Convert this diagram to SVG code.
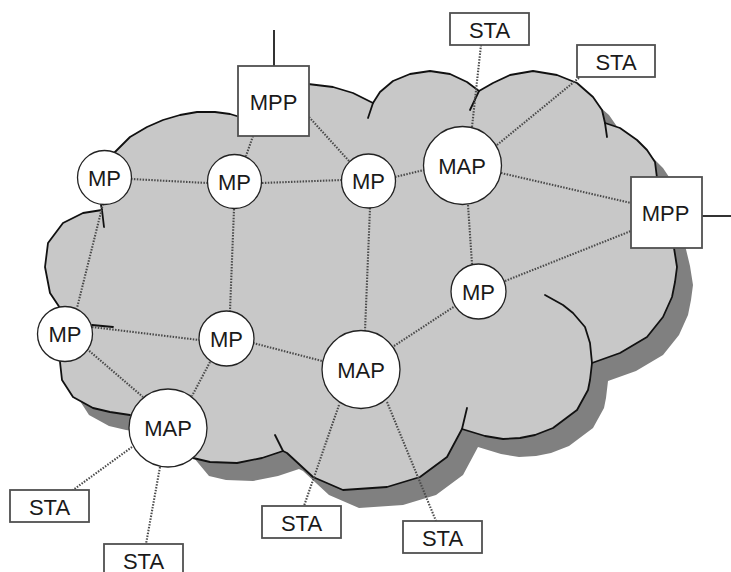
<svg xmlns="http://www.w3.org/2000/svg" width="731" height="572" viewBox="0 0 731 572">
  <style>
    .cloud { fill: #c8c8c8; }
    .shadow { fill: #808080; }
    .edge { fill: none; stroke: #111; stroke-width: 1.8; stroke-linejoin: round; stroke-linecap: round; }
    .link { stroke: #4a4a4a; stroke-width: 2.1; stroke-dasharray: 1.5 1.4; fill: none; }
    .node { fill: #fff; stroke: #222; stroke-width: 1.3; }
    .box { fill: #fff; stroke: #505050; stroke-width: 1.8; }
    .wire { stroke: #333; stroke-width: 2; }
    .lbl { font-family: "Liberation Sans", Arial, sans-serif; font-size: 22px; fill: #1a1a1a; text-anchor: middle; }
  </style>
  <defs>
    <path id="cloudShape" d="M104,177 L115,152 L130,137 L147,127 L163,120 L180,115 L197,112 L215,112 L230,114 L240,117 L255,120 L280,92 L310,84 L333,87 L353,93 L373,103 L380,92 L393,81 L410,74 L430,71 L450,74 L467,82 L479,91 L493,83 L510,75 L533,71 L557,75 L577,83 L593,97 L602,110 L605,123 L620,128 L637,140 L647,150 L655,162 L657,177 L674,248 L677,267 L675,282 L672,297 L663,317 L647,337 L620,353 L592,363 L590,380 L588,390 L577,410 L553,428 L535,435 L520,438 L503,439 L485,436 L462,429 L447,457 L420,477 L387,487 L343,490 L313,477 L287,453 L283,451 L262,458 L237,463 L210,462 L193,458 L168,428 L130,415 L110,412 L93,408 L73,397 L62,380 L60,362 L65,334 L60,308 L50,293 L45,267 L48,243 L63,223 L83,213 L102,210 Z"/>
  </defs>

  <!-- cloud body with drop shadow -->
  <use href="#cloudShape" class="shadow" transform="translate(16,18)"/>
  <use href="#cloudShape" class="cloud"/>

  <!-- cloud outline and inner lobe hooks -->
  <g id="cloud-outline">
    <path class="edge" d="M112,155 L130,137 L147,127 L163,120 L180,115 L197,112 L215,112 L230,114 L240,117"/>
    <path class="edge" d="M308,84 L333,87 L353,93 L373,103 L380,92 L393,81 L410,74 L430,71 L450,74 L467,82 L479,91 L493,83 L510,75 L533,71 L557,75 L577,83 L593,97 L602,110 L605,123 L620,128 L637,140 L647,150 L655,162 L657,178"/>
    <path class="edge" d="M674,248 L677,267 L675,282 L672,297 L663,317 L647,337 L620,353 L592,363 L590,380 L588,390 L577,410 L553,428 L535,435 L520,438 L503,439 L485,436 L462,429 L447,457 L420,477 L387,487 L343,490 L313,477 L287,453 L283,451 L262,458 L237,463 L210,462 L193,458"/>
    <path class="edge" d="M130,415 L110,412 L93,408 L73,397 L62,380 L60,362"/>
    <path class="edge" d="M60,308 L50,293 L45,267 L48,243 L63,223 L83,213 L102,210 L101,205"/>
    <path class="edge" d="M102,210 L104,227"/>
    <path class="edge" d="M92,325 L113,327"/>
    <path class="edge" d="M373,103 L368,118"/>
    <path class="edge" d="M479,91 L470,110"/>
    <path class="edge" d="M605,123 L607,137"/>
    <path class="edge" d="M592,363 L590,343 L585,327 L573,313 L563,305 L545,295"/>
    <path class="edge" d="M462,429 L467,408"/>
    <path class="edge" d="M283,451 L275,435"/>
  </g>

  <!-- wired uplinks of the portals -->
  <g id="uplinks">
    <line class="wire" x1="274" y1="30" x2="274" y2="66"/>
    <line class="wire" x1="702" y1="216" x2="731" y2="216"/>
  </g>

  <!-- mesh and station links -->
  <g id="connectors">
    <line class="link" x1="253" y1="136" x2="246" y2="156"/>
    <line class="link" x1="309" y1="117" x2="349" y2="161"/>
    <line class="link" x1="131" y1="179" x2="207" y2="183"/>
    <line class="link" x1="262" y1="183" x2="342" y2="180"/>
    <line class="link" x1="395" y1="177" x2="424" y2="170"/>
    <line class="link" x1="472" y1="127" x2="481" y2="45"/>
    <line class="link" x1="497" y1="145" x2="580" y2="77"/>
    <line class="link" x1="501" y1="173" x2="631" y2="203"/>
    <line class="link" x1="468" y1="205" x2="472" y2="264"/>
    <line class="link" x1="505" y1="281" x2="631" y2="231"/>
    <line class="link" x1="103" y1="204" x2="77" y2="308"/>
    <line class="link" x1="234" y1="209" x2="230" y2="311"/>
    <line class="link" x1="370" y1="208" x2="365" y2="331"/>
    <line class="link" x1="92" y1="327" x2="199" y2="340"/>
    <line class="link" x1="253" y1="343" x2="322" y2="361"/>
    <line class="link" x1="394" y1="346" x2="455" y2="306"/>
    <line class="link" x1="87" y1="349" x2="143" y2="397"/>
    <line class="link" x1="210" y1="362" x2="192" y2="396"/>
    <line class="link" x1="132" y1="447" x2="73" y2="490"/>
    <line class="link" x1="160" y1="467" x2="146" y2="544"/>
    <line class="link" x1="339" y1="405" x2="304" y2="506"/>
    <line class="link" x1="387" y1="402" x2="436" y2="521"/>
  </g>

  <!-- mesh portals -->
  <g id="mpp-top">
    <rect class="box" x="238" y="66" width="71" height="70"/>
    <text class="lbl" x="273.5" y="110">MPP</text>
  </g>
  <g id="mpp-right">
    <rect class="box" x="631" y="177" width="71" height="71"/>
    <text class="lbl" x="665.5" y="221">MPP</text>
  </g>

  <!-- mesh points -->
  <g id="mp-1">
    <circle class="node" cx="104.5" cy="177.5" r="27"/>
    <text class="lbl" x="104.5" y="185.5">MP</text>
  </g>
  <g id="mp-2">
    <circle class="node" cx="234.5" cy="181.5" r="27"/>
    <text class="lbl" x="234.5" y="189.5">MP</text>
  </g>
  <g id="mp-3">
    <circle class="node" cx="368.5" cy="181" r="27"/>
    <text class="lbl" x="368.5" y="189">MP</text>
  </g>
  <g id="mp-4">
    <circle class="node" cx="478.5" cy="291.5" r="27.5"/>
    <text class="lbl" x="478.5" y="299.5">MP</text>
  </g>
  <g id="mp-5">
    <circle class="node" cx="65" cy="334" r="27.5"/>
    <text class="lbl" x="65" y="342">MP</text>
  </g>
  <g id="mp-6">
    <circle class="node" cx="226.5" cy="338.5" r="27.5"/>
    <text class="lbl" x="226.5" y="346.5">MP</text>
  </g>

  <!-- mesh access points -->
  <g id="map-1">
    <circle class="node" cx="462.5" cy="165.5" r="39"/>
    <text class="lbl" x="462" y="173.5">MAP</text>
  </g>
  <g id="map-2">
    <circle class="node" cx="361" cy="369.5" r="39"/>
    <text class="lbl" x="361" y="377.5">MAP</text>
  </g>
  <g id="map-3">
    <circle class="node" cx="168" cy="428" r="39"/>
    <text class="lbl" x="168" y="436">MAP</text>
  </g>

  <!-- stations -->
  <g id="sta-1">
    <rect class="box" x="450" y="13" width="79" height="32"/>
    <text class="lbl" x="489.5" y="37.5">STA</text>
  </g>
  <g id="sta-2">
    <rect class="box" x="577" y="45" width="78" height="32"/>
    <text class="lbl" x="616" y="69.5">STA</text>
  </g>
  <g id="sta-3">
    <rect class="box" x="10" y="490" width="79" height="32"/>
    <text class="lbl" x="49.5" y="514.5">STA</text>
  </g>
  <g id="sta-4">
    <rect class="box" x="104" y="544" width="79" height="32"/>
    <text class="lbl" x="143.5" y="568.5">STA</text>
  </g>
  <g id="sta-5">
    <rect class="box" x="262" y="506" width="79" height="32"/>
    <text class="lbl" x="301.5" y="530.5">STA</text>
  </g>
  <g id="sta-6">
    <rect class="box" x="403" y="521" width="79" height="32"/>
    <text class="lbl" x="442.5" y="545.5">STA</text>
  </g>
</svg>
